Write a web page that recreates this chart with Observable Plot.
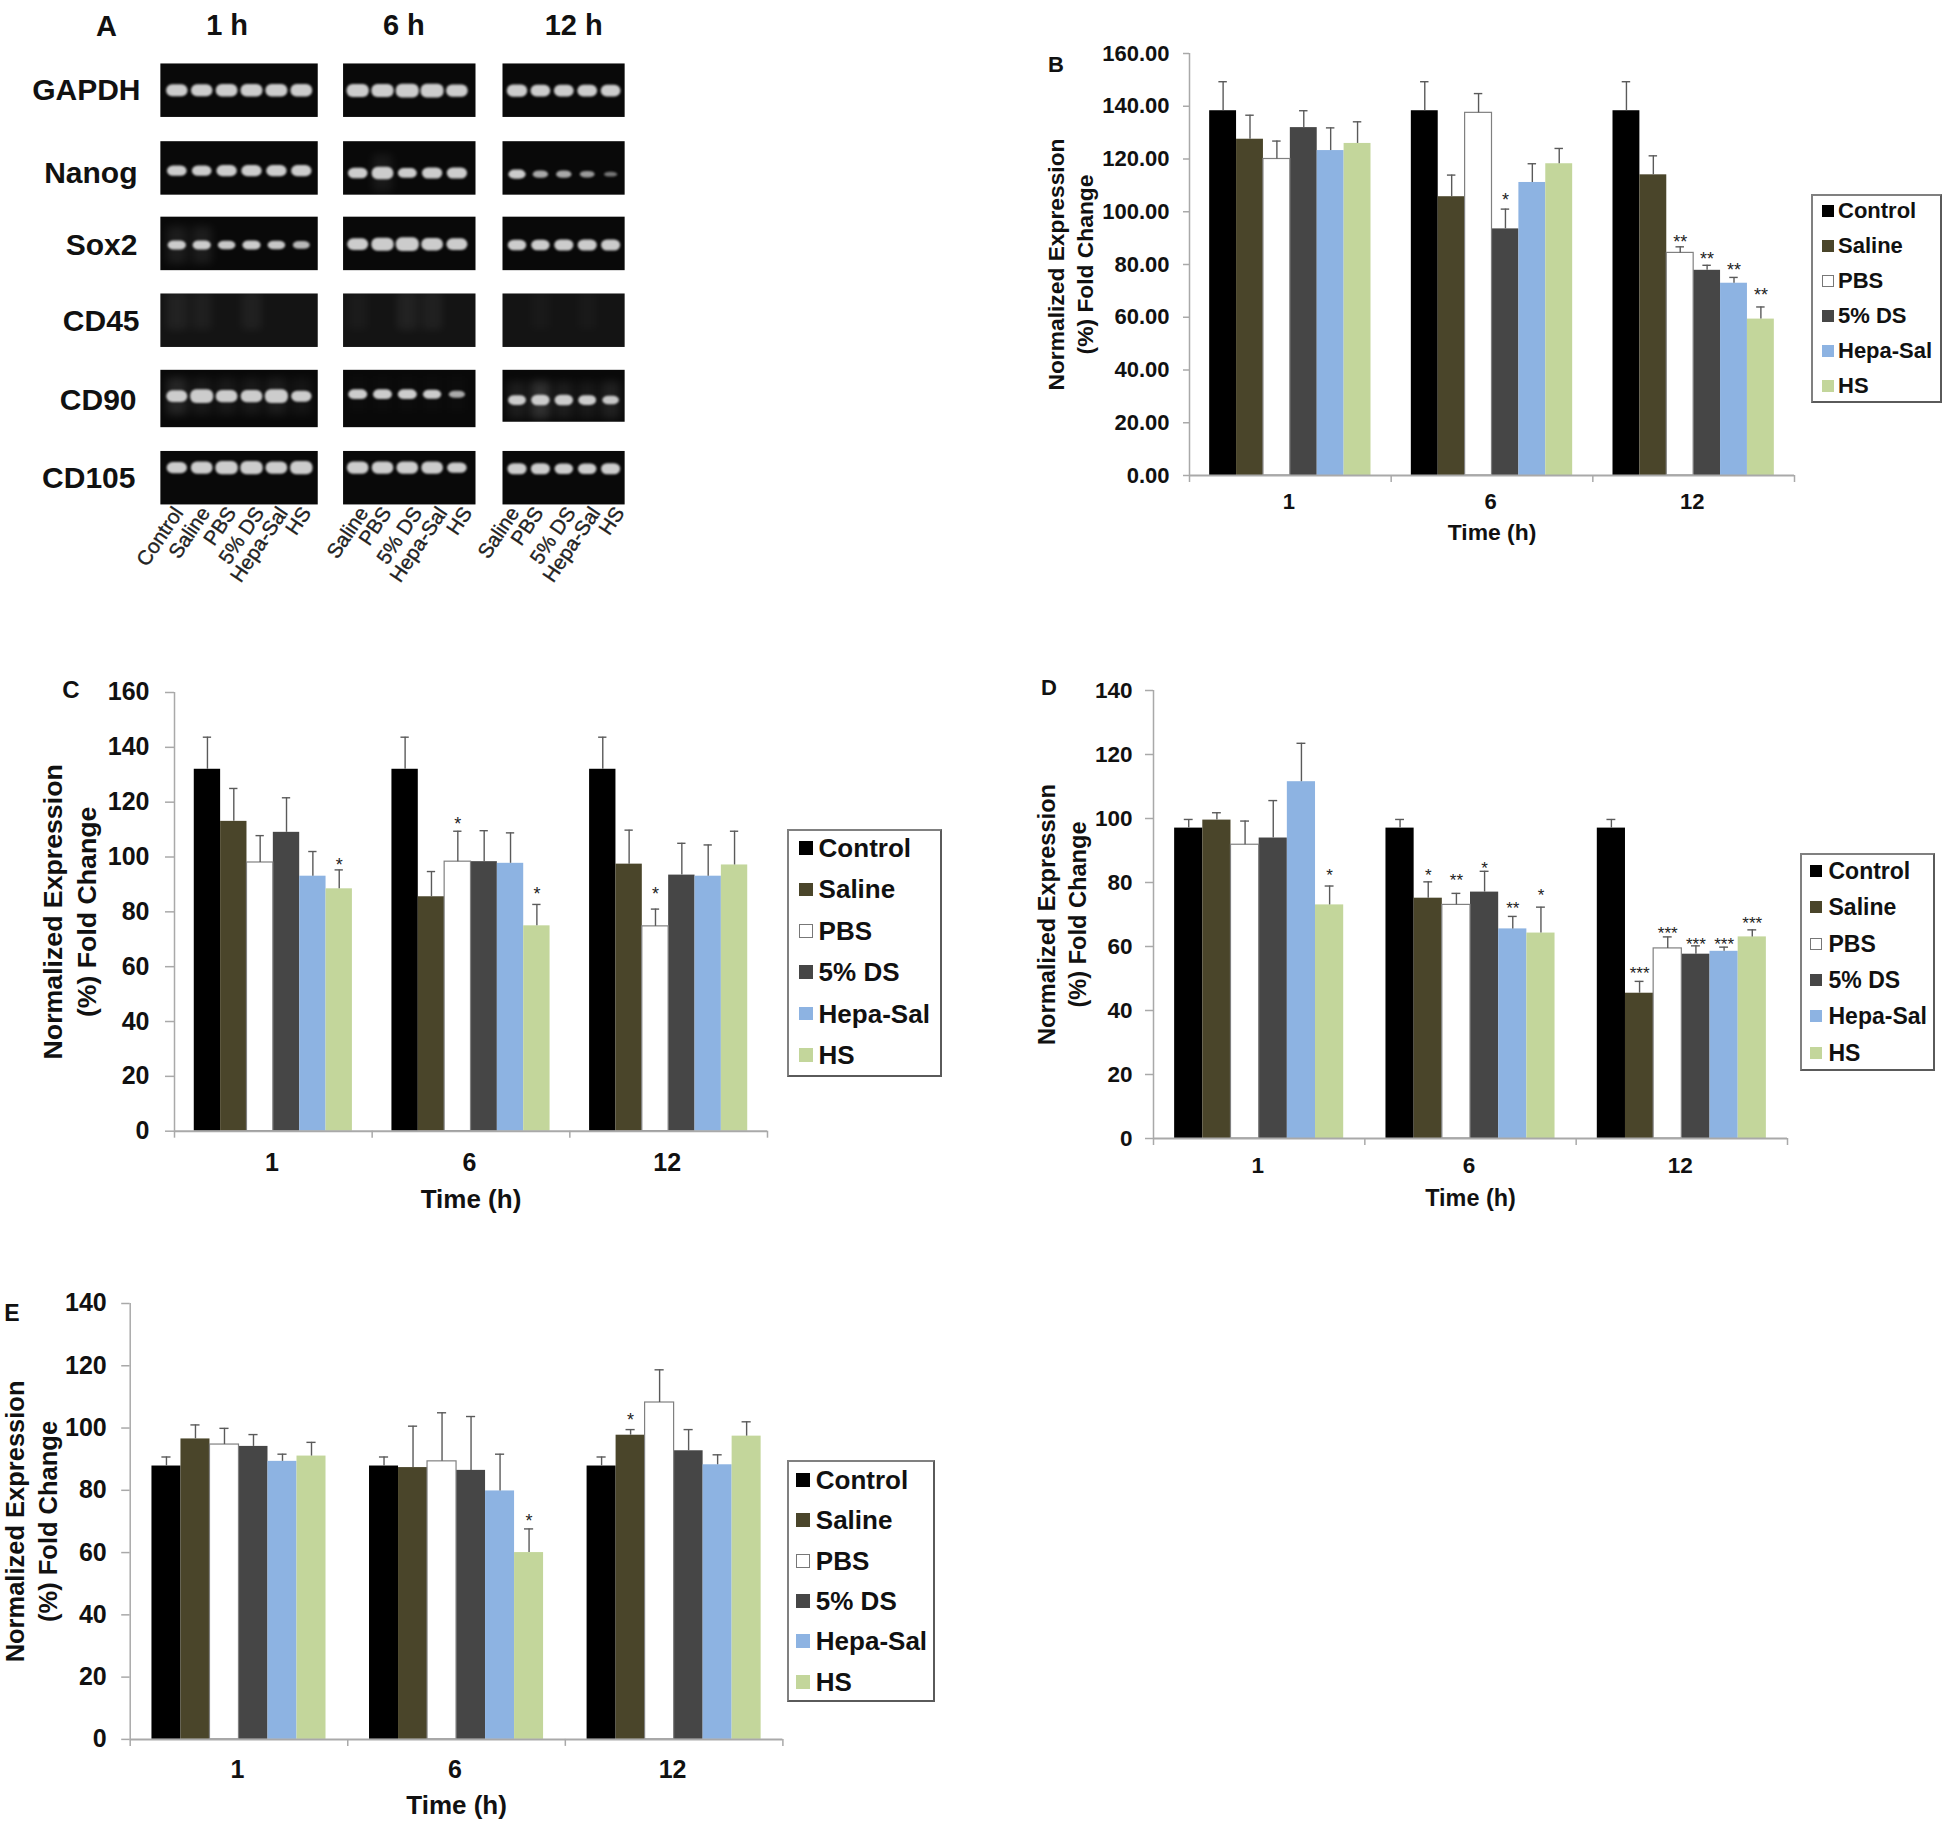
<!DOCTYPE html>
<html><head><meta charset="utf-8">
<style>
html,body{margin:0;padding:0;background:#fff}
#page{position:relative;width:1944px;height:1822px;overflow:hidden;background:#fff;font-family:"Liberation Sans",Arial,sans-serif;color:#111}
.abs{position:absolute}
.letter{position:absolute;font-weight:bold;line-height:1;transform:translate(-50%,-50%)}
.legend{position:absolute;box-sizing:border-box;border:2px solid #808080;border-right-color:#5a5a5a;border-bottom-color:#5a5a5a;background:#fff}
</style>
<script src="https://cdn.jsdelivr.net/npm/d3@7"></script>
<script src="https://cdn.jsdelivr.net/npm/@observablehq/plot@0.6"></script>
</head><body><div id="page"></div>
<script>
// ---------- shared categories ----------
const series = ["Control","Saline","PBS","5% DS","Hepa-Sal","HS"];
const seriesColors = ["#000000","#4a452a","#ffffff","#464646","#8db3e2","#c3d69b"];
const times = ["1","6","12"];

// ---------- panel B ----------
const bMean = [[138.3,127.5,120,131.9,123.2,125.9],[138.3,105.7,137.5,93.5,111.1,118.2],[138.3,114,84.4,77.8,72.9,59.3]];
const bTop  = [[149.3,136.6,126.8,138.3,131.8,134.1],[149.3,113.9,144.8,101,118.2,124],[149.3,121.2,86.7,79.7,75.1,63.9]];
const bStars = [[1,3,"*",106],[2,2,"**",90],[2,3,"**",83.5],[2,4,"**",79.3],[2,5,"**",70]];
const bTicks = [0,20,40,60,80,100,120,140,160];
// ---------- panel C ----------
const cMean = [[132,113,98,109,93,88.4],[132,85.5,98.3,98.3,97.7,74.9],[132,97.4,74.7,93.4,93,97.1]];
const cTop  = [[143.7,125,107.8,121.6,102,95.3],[143.7,94.7,109.4,109.6,108.8,82.7],[143.7,109.8,81,105,104.4,109.4]];
const cStars = [[0,5,"*",98.4],[1,2,"*",113.4],[1,5,"*",87.9],[2,2,"*",88]];
const cTicks = [0,20,40,60,80,100,120,140,160];
// ---------- panel D ----------
const dMean = [[97,99.5,91.8,93.9,111.5,73],[97,75.1,73,77,65.5,64.2],[97,45.4,59.4,57.6,58.5,63]];
const dTop  = [[99.7,101.8,99.2,105.6,123.5,78.9],[99.7,80.2,76.6,83.5,69.4,72.3],[99.7,49.1,63,60.2,59.8,65.2]];
const dStars = [[0,5,"*",83.4],[1,1,"*",83.4],[1,2,"**",81.8],[1,3,"*",85.6],[1,4,"**",73],[1,5,"*",77.1],[2,1,"***",52.7],[2,2,"***",65.4],[2,3,"***",62],[2,4,"***",62],[2,5,"***",68.4]];
const dTicks = [0,20,40,60,80,100,120,140];
// ---------- panel E ----------
const eMean = [[87.8,96.5,94.7,94.1,89.3,91],[87.8,87.3,89.3,86.4,79.8,60],[87.8,97.7,108.2,92.7,88.2,97.4]];
const eTop  = [[90.7,101,99.9,97.9,91.6,95.4],[90.7,100.6,104.9,103.7,91.6,67.6],[90.7,99.5,118.7,99.5,91.4,102]];
const eStars = [[1,5,"*",71.3],[2,1,"*",103.8]];
const eTicks = [0,20,40,60,80,100,120,140];

// ---------- panel A (gels): band intensity per row and lane ----------
const geneRows = ["GAPDH","Nanog","Sox2","CD45","CD90","CD105"];
const rowPos = [0,1.003,1.977,2.968,3.978,5];
const rowLabelPos = [0,1.07,2.0,2.98,4.0,5];
const rowLabelShift = [2,-1,-1,1,-2,-3];
const hours = ["1 h","6 h","12 h"];
const lanes1h = ["Control","Saline","PBS","5% DS","Hepa-Sal","HS"];
const lanesLater = ["Saline","PBS","5% DS","Hepa-Sal","HS"];
const band1h = [[.93,.93,.95,.97,.97,.95],[.8,.8,.85,.85,.85,.85],[.7,.7,.65,.7,.65,.6],[0,0,0,0,0,0],[.9,1.05,.95,.95,1.05,.85],[.85,.95,1,1,.95,1]];
const band6h = [[1,1,1.05,1.05,.95],[.8,.95,.75,.85,.85],[.9,1,1.05,.95,.9],[0,0,0,0,0],[.75,.75,.75,.7,.55],[.95,.95,.95,.95,.8]];
const band12h = [[.95,.9,.9,.9,.9],[.7,.55,.55,.5,.38],[.8,.8,.85,.85,.85],[0,0,0,0,0],[.75,.8,.8,.75,.65],[.85,.85,.8,.8,.85]];
const smear1h = [[0,0,0,0,0,0],[0,0,0,0,0,0],[.5,.5,0,0,0,0],[.4,.3,0,.35,0,0],[.7,.4,.4,.4,.5,.3],[0,0,0,0,0,0]];
const smear6h = [[0,0,0,0,0],[0,.4,0,0,0],[0,0,0,0,0],[.2,0,.4,.35,0],[.1,.1,.1,.1,.1],[0,0,0,0,0]];
const smear12h = [[0,0,0,0,0],[0,0,0,0,0],[0,0,0,0,0],[0,.15,0,.15,0],[.5,1,.5,.4,.6],[0,0,0,0,0]];
const bandShift = [[0,.005,.005],[.035,.065,.08],[.02,.01,.02],[0,0,0],[-.03,-.055,.02],[-.13,-.13,-.115]];
const labelLane1h = [.05,1.13,2.18,3.3,4.25,5.19];
const labelLane6h = [.22,1.15,2.39,3.4,4.41];
const labelLane12h = [-.12,.91,2.28,3.34,4.37];

const FONT = '"Liberation Sans", Arial, sans-serif';
const page = document.getElementById("page");
function place(node, left, top, width){
  const d = document.createElement("div");
  d.className = "abs"; d.style.left = left+"px"; d.style.top = top+"px"; d.style.width = width+"px";
  d.appendChild(node); page.appendChild(d);
}
function letter(t,x,y,size){
  const d=document.createElement("div"); d.className="letter"; d.textContent=t;
  d.style.left=x+"px"; d.style.top=y+"px"; d.style.fontSize=size+"px"; page.appendChild(d);
}
function legend(o){
  const box=document.createElement("div"); box.className="legend";
  box.style.cssText=`left:${o.x0}px;top:${o.y0}px;width:${o.x1-o.x0}px;height:${o.y1-o.y0}px`;
  page.appendChild(box);
  series.forEach((s,i)=>{
    const cy=o.first+i*o.step;
    const sw=document.createElement("div");
    sw.style.cssText=`position:absolute;box-sizing:border-box;left:${o.swatchX}px;top:${cy-o.swatch/2}px;width:${o.swatch}px;height:${o.swatch}px;background:${seriesColors[i]};${s==="PBS"?"border:1.5px solid #777;":""}`;
    const t=document.createElement("div"); t.textContent=s;
    t.style.cssText=`position:absolute;left:${o.labelX}px;top:${cy}px;transform:translateY(-50%);font-size:${o.font}px;font-weight:bold;line-height:1;white-space:nowrap;color:#111`;
    page.append(sw,t);
  });
}

const PAD=.1, BARW=(1-2*PAD)/6, CAP=.021, axisGray="#a9a9a9";
function barChart(o){
  const rows = o.mean.flatMap((m,t)=>m.map((v,s)=>({
    series:series[s], x1:t+PAD+s*BARW, x2:t+PAD+(s+1)*BARW, xc:t+PAD+(s+.5)*BARW, value:v, top:o.top[t][s]})));
  const stars = o.stars.map(([t,s,label,y])=>({x:t+PAD+(s+.5)*BARW,y,label}));
  const mL=o.marginLeft, mT=30, mB=84, mR=10;
  const width=o.right-o.axisX+mL+mR, height=o.bottom-o.yTop+mT+mB;
  const plot=Plot.plot({
    width,height,marginLeft:mL,marginRight:mR,marginTop:mT,marginBottom:mB,
    style:{fontFamily:FONT,fontWeight:"bold",fontSize:o.font+"px",color:"#111",background:"transparent",overflow:"visible"},
    x:{type:"linear",domain:[0,3]},
    y:{domain:o.yDomain},
    color:{domain:series,range:seriesColors},
    marks:[
      Plot.axisY({ticks:o.ticks,tickSize:o.tickY,tickPadding:o.padY,stroke:axisGray,strokeWidth:1.5,label:null,
        tickFormat:o.fmt||(d=>String(d))}),
      Plot.axisX({ticks:[.5,1.5,2.5],tickSize:0,tickPadding:o.padX,label:null,dx:-1.5,tickFormat:d=>times[Math.floor(d)]}),
      Plot.ruleX([0],{y1:o.yDomain[0],y2:o.yDomain[1],stroke:axisGray,strokeWidth:1.5}),
      Plot.rectY(rows,{x1:"x1",x2:"x2",y1:0,y2:"value",fill:"series"}),
      Plot.rectY(rows.filter(d=>d.series==="PBS"),{x1:"x1",x2:"x2",y1:0,y2:"value",fill:"none",stroke:"#808080",strokeWidth:1.2}),
      Plot.ruleY([0],{stroke:axisGray,strokeWidth:2}),
      Plot.ruleX([0,1,2,3],{x:d=>d,y1:0,y2:o.yDomain[1]*(-7/(o.bottom-o.yTop)),stroke:axisGray,strokeWidth:1.5,clip:false}),
      Plot.ruleX(rows,{x:"xc",y1:"value",y2:"top",stroke:"#5a5a5a",strokeWidth:1.4}),
      Plot.ruleY(rows,{x1:d=>d.xc-CAP,x2:d=>d.xc+CAP,y:"top",stroke:"#5a5a5a",strokeWidth:1.4}),
      Plot.text(stars,{x:"x",y:"y",text:"label",fontSize:o.starFont||18,fontWeight:"normal",fill:"#222",lineAnchor:"middle",dy:4}),
      Plot.text(["Normalized Expression\n(%) Fold Change"],{frameAnchor:"left",rotate:-90,dx:o.titleDx,fontSize:o.titleFont,lineHeight:o.titleLH,textAnchor:"middle",lineAnchor:"middle",fontWeight:"bold"}),
      Plot.text(["Time (h)"],{frameAnchor:"bottom",lineAnchor:"middle",dy:o.timeDy,fontWeight:"bold",fontSize:o.font*1.04})
    ]
  });
  place(plot,o.axisX-mL,o.yTop-mT,width);
}

barChart({mean:bMean,top:bTop,stars:bStars,ticks:bTicks,fmt:d=>d.toFixed(2),yDomain:[0,160],
  axisX:1189,right:1794,yTop:53,bottom:475,marginLeft:159,font:22,tickY:6,padY:14,padX:18,titleDx:-120.5,titleFont:22.8,titleLH:1.3,timeDy:57});
barChart({mean:cMean,top:cTop,stars:cStars,ticks:cTicks,yDomain:[0,160],
  axisX:173.5,right:766.5,yTop:692,bottom:1130.7,marginLeft:170,font:25,tickY:9,padY:16,padX:22,titleDx:-106,titleFont:26.7,titleLH:1.27,timeDy:68});
barChart({mean:dMean,top:dTop,stars:dStars,ticks:dTicks,yDomain:[0,140],starFont:17,
  axisX:1152.6,right:1786.6,yTop:690,bottom:1138,marginLeft:130,font:22.5,tickY:8,padY:13,padX:19,titleDx:-93,titleFont:23.6,titleLH:1.3,timeDy:60});
barChart({mean:eMean,top:eTop,stars:eStars,ticks:eTicks,yDomain:[0,140],
  axisX:129.7,right:782.4,yTop:1302.8,bottom:1738.7,marginLeft:129.7,font:25,tickY:8.5,padY:15,padX:21,titleDx:-100.5,titleFont:25.5,titleLH:1.3,timeDy:66});

legend({x0:1811,x1:1942,y0:194,y1:403,first:211,step:35,swatchX:1822,swatch:12,labelX:1838,font:22});
legend({x0:787,x1:941.5,y0:828.6,y1:1076.8,first:848,step:41.4,swatchX:799,swatch:13.5,labelX:818.6,font:26});
legend({x0:1800,x1:1935,y0:853,y1:1071.4,first:870.7,step:36.4,swatchX:1809.6,swatch:12,labelX:1828.5,font:23});
legend({x0:786.7,x1:935,y0:1459.7,y1:1701.7,first:1479.8,step:40.4,swatchX:796,swatch:14,labelX:815.8,font:26});

letter("B",1056,65,22); letter("C",71,690,24); letter("D",1049,688,22); letter("E",12,1313,23);

// ---------- gels ----------
const ROWPX=77.5, H=550;
function gel(o){
  const {band,smear,shift,labels,labelLane,hour}=o;
  const bands=[], smears=[];
  band.forEach((row,r)=>row.forEach((i,l)=>{
    const y=rowPos[r]+bandShift[r][shift];
    if(i>0) bands.push({lane:l,y,i});
    if(smear[r][l]>0) smears.push({lane:l,y:r===3?rowPos[r]-.12:y,i:smear[r][l]});
  }));
  const gels=geneRows.map((g,r)=>({g,r:rowPos[r],top:g==="CD90"?.37:.345,bot:g==="CD90"?(o.cd90Bot||.37):.345}));
  const toX=p=>(p-o.lane0)/o.step;
  const marks=[
    Plot.rect(gels,{x1:o.g0,x2:o.g1,y1:d=>d.r-d.top,y2:d=>d.r+d.bot,fill:d=>d.g==="CD45"?"#141414":"#090909"}),
    Plot.rect(smears,{x1:d=>d.lane-.4,x2:d=>d.lane+.4,y1:d=>d.y-.24,y2:d=>d.y+.24,fill:"#fff",fillOpacity:d=>.16*d.i,imageFilter:"blur(4px)"}),
    Plot.rect(bands,{x1:d=>d.lane-(.35+.55*d.i)/2,x2:d=>d.lane+(.35+.55*d.i)/2,y1:d=>d.y-.168*d.i/2,y2:d=>d.y+.168*d.i/2,fill:"#cccccc",fillOpacity:d=>Math.min(1,d.i*1.5),rx:6,imageFilter:"blur(1.3px)"}),
    Plot.text(labels,{x:(d,i)=>labelLane[i],y:()=>5.4,text:d=>d,rotate:-56,textAnchor:"end",lineAnchor:"middle",fontSize:20.5,fill:"#222",stroke:"#222",strokeWidth:.35}),
    Plot.text([hour],{x:()=>o.headLane,y:()=>-.84,text:d=>d,fontSize:29,fontWeight:"bold"})
  ];
  if(o.rowLabels) marks.push(
    Plot.text(geneRows,{x:(d,i)=>toX(138+rowLabelShift[i]),y:(d,i)=>rowLabelPos[i],text:d=>d,textAnchor:"end",fontSize:30,fontWeight:"bold"}),
    Plot.text(["A"],{x:()=>toX(106),y:()=>-.82,text:d=>d,fontSize:29,fontWeight:"bold"})
  );
  const plot=Plot.plot({
    width:o.width,height:H,margin:0,
    style:{fontFamily:FONT,color:"#111",background:"transparent",overflow:"visible"},
    x:{type:"linear",domain:[toX(0),toX(o.width)],axis:null},
    y:{type:"linear",domain:[-90.2/ROWPX,(H-90.2)/ROWPX],range:[0,H],axis:null},
    marks
  });
  place(plot,o.left,0,o.width);
}
gel({left:0,width:330,lane0:176.8,step:24.9,g0:-.66,g1:5.66,band:band1h,smear:smear1h,shift:0,labels:lanes1h,labelLane:labelLane1h,hour:hours[0],headLane:2,rowLabels:true});
gel({left:330,width:160,lane0:27.7,step:24.8,g0:-.59,g1:4.75,band:band6h,smear:smear6h,shift:1,labels:lanesLater,labelLane:labelLane6h,hour:hours[1],headLane:1.84});
gel({left:490,width:150,lane0:27,step:23.4,g0:-.62,g1:4.6,band:band12h,smear:smear12h,shift:2,labels:lanesLater,labelLane:labelLane12h,hour:hours[2],headLane:2.4,cd90Bot:.30});
</script></body></html>
